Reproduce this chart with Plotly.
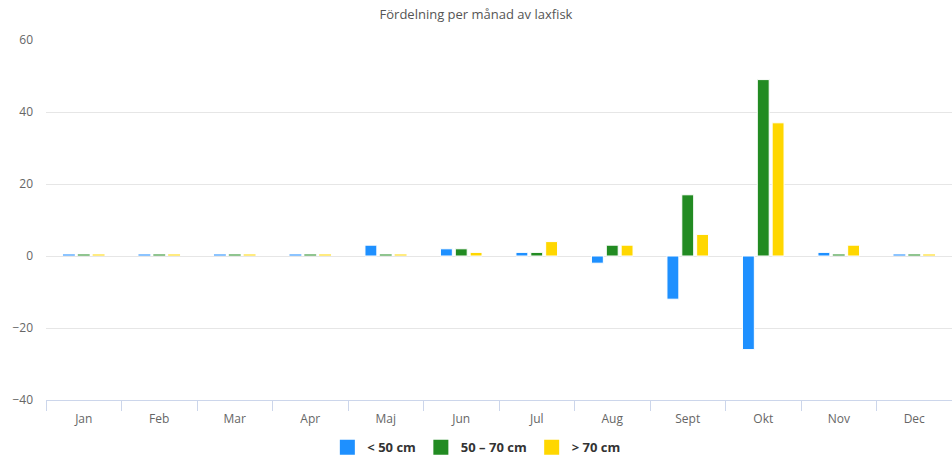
import plotly.graph_objects as go

months = ["Jan", "Feb", "Mar", "Apr", "Maj", "Jun", "Jul", "Aug", "Sept", "Okt", "Nov", "Dec"]
under_50 = [0.3, 0.3, 0.3, 0.3, 3, 2, 1, -2, -12, -26, 1, 0.3]
mid_50_70 = [0.3, 0.3, 0.3, 0.3, 0.3, 2, 1, 3, 17, 49, 0.3, 0.3]
over_70 = [0.3, 0.3, 0.3, 0.3, 0.3, 1, 4, 3, 6, 37, 3, 0.3]
series_names = ["< 50 cm", "50 – 70 cm", "> 70 cm"]
colors = ["#1E90FF", "#228B22", "#FFD700"]
faint = ["#8CC4FF", "#90C590", "#FFEB80"]
y_ticks = [-40, -20, 0, 20, 40, 60]

font = "Open Sans, Lato, sans-serif"
fig = go.Figure()
for name, vals, c, fc in zip(series_names, [under_50, mid_50_70, over_70], colors, faint):
    bar_colors = [fc if abs(v) < 0.5 else c for v in vals]
    line_w = [0 if abs(v) < 0.5 else 1 for v in vals]
    fig.add_trace(go.Bar(x=months, y=vals, name=name, showlegend=False,
                         marker=dict(color=bar_colors, line=dict(color="white", width=line_w))))
for name, c in zip(series_names, colors):
    fig.add_trace(go.Scatter(x=[None], y=[None], mode="markers", name=name,
                             marker=dict(symbol="square", size=15, color=c)))

# invisible trace on secondary x axis for boundary tick marks
fig.add_trace(go.Scatter(x=[-0.5, 11.5], y=[None, None], xaxis="x2", showlegend=False, hoverinfo="skip"))

fig.update_layout(
    width=952, height=461,
    margin=dict(l=46, r=0, t=40, b=61, autoexpand=False),
    paper_bgcolor="white", plot_bgcolor="white",
    barmode="group", bargap=0.41, bargroupgap=0.2,
    title=dict(text="Fördelning per månad av laxfisk", x=0.5, xanchor="center", y=0.978, yanchor="top",
               font=dict(family=font, size=13, color="#555555")),
    font=dict(family=font),
    xaxis=dict(type="category", showgrid=False, showline=True, linecolor="#ccd6eb", linewidth=1,
               ticks="", tickfont=dict(size=12, color="#666666"), range=[-0.5, 11.5], fixedrange=True,
               ticklabelstandoff=8),
    xaxis2=dict(overlaying="x", range=[-0.5, 11.5], tickvals=[i - 0.5 for i in range(13)], ticks="outside",
                ticklen=10, tickcolor="#ccd6eb", showticklabels=False, showgrid=False, side="bottom",
                showline=False, zeroline=False),
    yaxis=dict(range=[-40, 60], tickvals=y_ticks, showgrid=True, gridcolor="#e6e6e6", gridwidth=1,
               zeroline=True, zerolinecolor="#e6e6e6", zerolinewidth=1,
               tickfont=dict(size=12, color="#666666"), ticks="", ticklabelstandoff=12),
    legend=dict(orientation="h", x=0.475, xanchor="center", yref="container", y=0.062, yanchor="top",
                font=dict(size=13, color="#333333", family=font, weight="bold"),
                traceorder="normal", itemwidth=30),
    showlegend=True,
)

fig.write_html("out.html")
